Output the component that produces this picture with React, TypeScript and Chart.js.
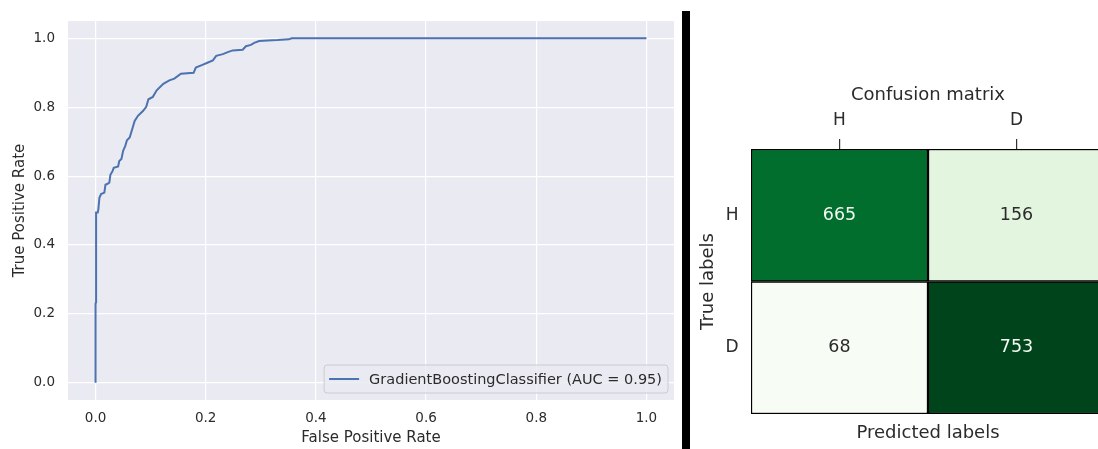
import React, { useEffect, useRef } from 'react';
import { Chart, registerables } from 'chart.js';

Chart.register(...registerables);

// ---------- ROC curve data ----------
const FPR = [0, 0, 0.001, 0.001, 0.004, 0.005, 0.007, 0.010, 0.016, 0.018, 0.021, 0.025, 0.027, 0.031, 0.033, 0.041, 0.043, 0.047, 0.050, 0.054, 0.057, 0.062, 0.065, 0.071, 0.077, 0.086, 0.092, 0.096, 0.104, 0.111, 0.123, 0.134, 0.143, 0.155, 0.178, 0.182, 0.194, 0.203, 0.213, 0.219, 0.231, 0.240, 0.249, 0.267, 0.273, 0.282, 0.288, 0.297, 0.312, 0.330, 0.351, 0.356, 1.0];
const TPR = [0, 0.230, 0.233, 0.494, 0.494, 0.502, 0.537, 0.548, 0.552, 0.575, 0.577, 0.581, 0.604, 0.615, 0.624, 0.628, 0.644, 0.650, 0.673, 0.688, 0.704, 0.712, 0.728, 0.760, 0.775, 0.789, 0.801, 0.823, 0.830, 0.849, 0.868, 0.878, 0.883, 0.897, 0.900, 0.915, 0.923, 0.929, 0.936, 0.949, 0.954, 0.960, 0.965, 0.967, 0.977, 0.981, 0.987, 0.992, 0.994, 0.995, 0.997, 1.0, 1.0];
const ROC_LABEL = 'GradientBoostingClassifier (AUC = 0.95)';
const ROC_X_TICKS = [0, 0.2, 0.4, 0.6, 0.8, 1.0];
const ROC_Y_TICKS = [0, 0.2, 0.4, 0.6, 0.8, 1.0];

// ---------- Confusion matrix data ----------
const CM_CLASSES = ['H', 'D'];
const CM_ROW_H = [665, 156];
const CM_ROW_D = [68, 753];
const CM_ROWS = [CM_ROW_H, CM_ROW_D];

const FONT = "'DejaVu Sans', sans-serif";
const TEXT = '#2b2b2b';

const GREENS = ['#f7fcf5', '#e5f5e0', '#c7e9c0', '#a1d99b', '#74c476', '#41ab5d', '#238b45', '#006d2c', '#00441b'];
function hexToRgb(h: string) {
  return [parseInt(h.slice(1, 3), 16), parseInt(h.slice(3, 5), 16), parseInt(h.slice(5, 7), 16)];
}
function greens(t: number) {
  const p = Math.max(0, Math.min(1, t)) * (GREENS.length - 1);
  const i = Math.min(GREENS.length - 2, Math.floor(p));
  const f = p - i;
  const a = hexToRgb(GREENS[i]);
  const b = hexToRgb(GREENS[i + 1]);
  const c = a.map((v, k) => Math.round(v + (b[k] - v) * f));
  return `rgb(${c[0]},${c[1]},${c[2]})`;
}

const bgPlugin = {
  id: 'plotBg',
  beforeDraw(chart: any) {
    const { ctx, chartArea } = chart;
    ctx.save();
    ctx.fillStyle = '#eaeaf2';
    ctx.fillRect(chartArea.left, chartArea.top, chartArea.right - chartArea.left, chartArea.bottom - chartArea.top);
    ctx.restore();
  },
};

const rocLegendPlugin = {
  id: 'rocLegend',
  afterDraw(chart: any) {
    const { ctx, chartArea } = chart;
    const ds = chart.data.datasets[0];
    ctx.save();
    ctx.font = `14.5px ${FONT}`;
    const tw = ctx.measureText(ds.label).width;
    const h = 28;
    const w = 45 + tw + 6;
    const x1 = chartArea.right - 6 - w;
    const y1 = chartArea.bottom - 7 - h;
    const r = 3;
    ctx.beginPath();
    ctx.moveTo(x1 + r, y1);
    ctx.lineTo(x1 + w - r, y1);
    ctx.quadraticCurveTo(x1 + w, y1, x1 + w, y1 + r);
    ctx.lineTo(x1 + w, y1 + h - r);
    ctx.quadraticCurveTo(x1 + w, y1 + h, x1 + w - r, y1 + h);
    ctx.lineTo(x1 + r, y1 + h);
    ctx.quadraticCurveTo(x1, y1 + h, x1, y1 + h - r);
    ctx.lineTo(x1, y1 + r);
    ctx.quadraticCurveTo(x1, y1, x1 + r, y1);
    ctx.closePath();
    ctx.fillStyle = 'rgba(234,234,242,0.8)';
    ctx.fill();
    ctx.strokeStyle = '#cccccc';
    ctx.lineWidth = 1;
    ctx.stroke();
    ctx.beginPath();
    ctx.moveTo(x1 + 5, y1 + h / 2);
    ctx.lineTo(x1 + 35, y1 + h / 2);
    ctx.strokeStyle = ds.borderColor;
    ctx.lineWidth = 2;
    ctx.stroke();
    ctx.fillStyle = TEXT;
    ctx.textAlign = 'left';
    ctx.textBaseline = 'middle';
    ctx.fillText(ds.label, x1 + 45, y1 + h / 2 + 1);
    ctx.restore();
  },
};

const cellLabelPlugin = {
  id: 'cellLabels',
  afterDatasetsDraw(chart: any) {
    const { ctx } = chart;
    const all = CM_ROWS.flat();
    const lo = Math.min(...all);
    const hi = Math.max(...all);
    ctx.save();
    ctx.font = `17.5px ${FONT}`;
    ctx.textAlign = 'center';
    ctx.textBaseline = 'middle';
    chart.data.datasets.forEach((ds: any, di: number) => {
      const meta = chart.getDatasetMeta(di);
      meta.data.forEach((el: any, i: number) => {
        const v = ds.counts[i];
        const t = (v - lo) / (hi - lo);
        const { x, y, base } = el.getProps(['x', 'y', 'base'], true);
        ctx.fillStyle = t > 0.5 ? '#f4f9f3' : TEXT;
        ctx.fillText(String(v), x, (y + base) / 2);
      });
    });
    ctx.restore();
  },
};

export default function App() {
  const rocRef = useRef<HTMLCanvasElement>(null);
  const cmRef = useRef<HTMLCanvasElement>(null);

  useEffect(() => {
    const roc = new Chart(rocRef.current as HTMLCanvasElement, {
      type: 'scatter',
      data: {
        datasets: [
          {
            label: ROC_LABEL,
            data: FPR.map((x, i) => ({ x, y: TPR[i] })),
            showLine: true,
            borderColor: '#4c72b0',
            borderWidth: 2,
            pointRadius: 0,
            pointHoverRadius: 0,
            tension: 0,
            fill: false,
          } as any,
        ],
      },
      options: {
        responsive: false,
        animation: false,
        devicePixelRatio: 1,
        layout: { padding: { top: 20, right: 6, left: 0, bottom: 0 } },
        plugins: { legend: { display: false }, tooltip: { enabled: false } },
        scales: {
          x: {
            type: 'linear',
            min: -0.05,
            max: 1.05,
            afterBuildTicks: (s: any) => {
              s.ticks = ROC_X_TICKS.map((v) => ({ value: v }));
            },
            afterFit: (s: any) => {
              s.height = 49;
            },
            ticks: {
              callback: (v: any) => Number(v).toFixed(1),
              font: { family: FONT, size: 13.5 },
              color: TEXT,
              padding: 10,
              autoSkip: false,
              maxRotation: 0,
            },
            grid: { color: '#ffffff', lineWidth: 1.2, drawTicks: false },
            border: { display: false },
            title: {
              display: true,
              text: 'False Positive Rate',
              font: { family: FONT, size: 15 },
              color: TEXT,
              padding: { top: 0, bottom: 2 },
            },
          },
          y: {
            type: 'linear',
            min: -0.05,
            max: 1.05,
            afterBuildTicks: (s: any) => {
              s.ticks = ROC_Y_TICKS.map((v) => ({ value: v }));
            },
            afterFit: (s: any) => {
              s.width = 68;
            },
            ticks: {
              callback: (v: any) => Number(v).toFixed(1),
              font: { family: FONT, size: 13.5 },
              color: TEXT,
              padding: 13,
              autoSkip: false,
            },
            grid: { color: '#ffffff', lineWidth: 1.2, drawTicks: false },
            border: { display: false },
            title: {
              display: true,
              text: 'True Positive Rate',
              font: { family: FONT, size: 15 },
              color: TEXT,
              padding: { top: 11, bottom: 0 },
            },
          },
        },
      } as any,
      plugins: [bgPlugin, rocLegendPlugin],
    });

    const all = CM_ROWS.flat();
    const lo = Math.min(...all);
    const hi = Math.max(...all);
    const nRows = CM_ROWS.length;

    const cm = new Chart(cmRef.current as HTMLCanvasElement, {
      type: 'bar',
      data: {
        labels: CM_CLASSES,
        datasets: CM_ROWS.map((row, r) => ({
          label: CM_CLASSES[r],
          data: row.map(() => 1),
          counts: row,
          backgroundColor: row.map((v) => greens((v - lo) / (hi - lo))),
          borderColor: '#000000',
          borderWidth: 1.5,
          borderSkipped: false,
          barPercentage: 1,
          categoryPercentage: 1,
        })).reverse() as any,
      },
      options: {
        responsive: false,
        animation: false,
        devicePixelRatio: 1,
        layout: { padding: { top: 0, right: 5, left: 0, bottom: 0 } },
        plugins: {
          legend: { display: false },
          tooltip: { enabled: false },
          title: {
            display: true,
            text: 'Confusion matrix',
            fullSize: false,
            font: { family: FONT, size: 18, weight: 'normal' },
            color: TEXT,
            padding: { top: 85, bottom: 0 },
          },
        },
        scales: {
          x: {
            type: 'category',
            position: 'top',
            stacked: true,
            offset: true,
            afterFit: (s: any) => {
              s.height = 42.4;
            },
            grid: {
              offset: false,
              drawOnChartArea: false,
              drawTicks: true,
              tickLength: 10,
              color: '#333333',
              lineWidth: 1.2,
            },
            border: { display: false },
            ticks: { font: { family: FONT, size: 17 }, color: TEXT, padding: 7.8 },
          },
          x2: {
            axis: 'x',
            type: 'category',
            position: 'bottom',
            labels: CM_CLASSES,
            offset: true,
            afterFit: (s: any) => {
              s.height = 35;
            },
            grid: { display: false, drawTicks: false },
            border: { display: false },
            ticks: { display: false },
            title: {
              display: true,
              text: 'Predicted labels',
              font: { family: FONT, size: 18 },
              color: TEXT,
              padding: { top: 0, bottom: 5.2 },
            },
          },
          y: {
            type: 'linear',
            stacked: true,
            min: 0,
            max: nRows,
            afterBuildTicks: (s: any) => {
              s.ticks = CM_CLASSES.map((_, r) => ({ value: r + 0.5 }));
            },
            afterFit: (s: any) => {
              s.width = 61;
            },
            grid: { display: false, drawTicks: false },
            border: { display: false },
            ticks: {
              callback: (v: any) => CM_CLASSES[nRows - 1 - Math.floor(Number(v))],
              font: { family: FONT, size: 17 },
              color: TEXT,
              padding: 12.5,
              autoSkip: false,
            },
            title: {
              display: true,
              text: 'True labels',
              font: { family: FONT, size: 18 },
              color: TEXT,
              padding: { top: 7.2, bottom: 0 },
            },
          },
        },
      } as any,
      plugins: [cellLabelPlugin],
    });

    return () => {
      roc.destroy();
      cm.destroy();
    };
  }, []);

  return (
    <div
      style={{
        position: 'absolute',
        left: 0,
        top: 0,
        width: 1098,
        height: 449,
        overflow: 'hidden',
        background: '#ffffff',
      }}
    >
      <canvas
        ref={rocRef}
        width={680}
        height={449}
        style={{ position: 'absolute', left: 0, top: 0, width: 680, height: 449 }}
      />
      <div style={{ position: 'absolute', left: 682, top: 11, width: 8, height: 438, background: '#000000' }} />
      <canvas
        ref={cmRef}
        width={420}
        height={449}
        style={{ position: 'absolute', left: 690, top: 0, width: 420, height: 449 }}
      />
    </div>
  );
}
